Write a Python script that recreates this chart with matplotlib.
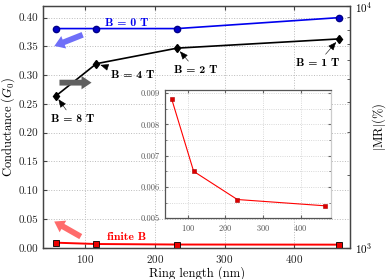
import numpy as np
import matplotlib
matplotlib.use('Agg')
import matplotlib.pyplot as plt
from matplotlib.ticker import MultipleLocator, NullFormatter

plt.rcParams['font.family'] = ['cmr10', 'DejaVu Serif']
plt.rcParams['mathtext.fontset'] = 'cm'
plt.rcParams['axes.formatter.use_mathtext'] = True

# data
ring = [58, 116, 232, 464]
g_b0 = [0.381, 0.381, 0.381, 0.400]
g_field = [0.264, 0.320, 0.347, 0.363]
field_labels = ['B = 8 T', 'B = 4 T', 'B = 2 T', 'B = 1 T']
g_finite = [0.0088, 0.0065, 0.0056, 0.0054]

# where the field labels sit (text centre)
label_pos = [(82, 0.224), (168, 0.300), (259, 0.309), (434, 0.321)]

spine_col = '#444444'

fig = plt.figure(figsize=(3.88, 2.79), dpi=100)
ax = fig.add_axes([0.112, 0.112, 0.790, 0.866])

ax.plot(ring, g_b0, color='#0000ee', lw=1.2, marker='o', ms=4.5,
        mfc='#0000cc', mec='#000088', zorder=5)
ax.plot(ring, g_field, color='black', lw=1.2, marker='d', ms=4.5, zorder=5)
ax.plot(ring, g_finite, color='red', lw=1.4, marker='s', ms=5,
        mfc='#ee0000', mec='black', mew=0.6, zorder=5)

ax.set_xlim(40, 480)
ax.set_ylim(0, 0.42)
ax.xaxis.set_major_locator(MultipleLocator(100))
ax.yaxis.set_major_locator(MultipleLocator(0.05))
ax.yaxis.set_major_formatter(matplotlib.ticker.FormatStrFormatter('%.2f'))
ax.tick_params(direction='in', labelsize=8, length=3, top=True,
               color=spine_col, labelcolor='#222222')
ax.grid(True, ls=':', color='#bbbbbb', lw=0.7)
for s in ax.spines.values():
    s.set_color(spine_col)
    s.set_linewidth(0.9)
ax.set_xlabel('Ring length (nm)', fontsize=9, labelpad=1)
ax.set_ylabel('Conductance ($G_0$)', fontsize=9, labelpad=1)

# right log axis
ax2 = ax.twinx()
ax2.set_yscale('log')
ax2.set_ylim(1e3, 1e4)
ax2.tick_params(which='both', direction='in', labelsize=8, color=spine_col)
ax2.tick_params(which='major', length=3)
ax2.tick_params(which='minor', length=2)
ax2.yaxis.set_minor_formatter(NullFormatter())
for s in ax2.spines.values():
    s.set_color(spine_col)
    s.set_linewidth(0.9)
ax2.set_ylabel(r'$|\mathrm{MR}|(\%)$', fontsize=9)
ax2.yaxis.set_label_coords(1.065, 0.5)

# labels
ax.text(160, 0.391, 'B = 0 T', color='#0000ee', fontsize=8.5,
        family='cmb10', ha='center', va='center', zorder=6)
ax.text(160, 0.019, 'finite B', color='red', fontsize=8.5,
        family='cmb10', ha='center', va='center', zorder=6)
for (tx, ty), x, y, lab in zip(label_pos, ring, g_field, field_labels):
    ax.annotate(lab, xy=(x, y), xytext=(tx, ty), fontsize=8.5,
                family='cmb10', ha='center', va='center', zorder=6,
                arrowprops=dict(arrowstyle='-|>,head_length=0.6,head_width=0.25',
                                color='black', lw=0.4, shrinkA=1, shrinkB=3))

# fat arrows
fat = 'simple,head_width=0.8,head_length=0.6,tail_width=0.35'
ax.annotate('', xy=(52, 0.349), xytext=(100, 0.372),
            arrowprops=dict(arrowstyle=fat, mutation_scale=12,
                            color='#6f6ff8', lw=0), zorder=6)
ax.annotate('', xy=(113, 0.287), xytext=(59, 0.287),
            arrowprops=dict(arrowstyle=fat, mutation_scale=12,
                            color='#606060', lw=0), zorder=6)
ax.annotate('', xy=(52, 0.048), xytext=(97, 0.017),
            arrowprops=dict(arrowstyle=fat, mutation_scale=12,
                            color='#ff6b6b', lw=0), zorder=6)

# inset
ins = fig.add_axes([0.4253, 0.2176, 0.427, 0.46])
ins.plot(ring, g_finite, color='red', lw=0.8, marker='s', ms=2.6,
         mfc='#dd0000', mec='#aa0000', mew=0.4)
ins.set_xlim(40, 480)
ins.set_ylim(0.005, 0.0091)
ins.xaxis.set_major_locator(MultipleLocator(100))
ins.yaxis.set_major_locator(MultipleLocator(0.001))
ins.yaxis.set_minor_locator(MultipleLocator(0.0005))
ins.yaxis.set_major_formatter(matplotlib.ticker.FormatStrFormatter('%.3f'))
ins.tick_params(which='both', direction='in', labelsize=6, length=2,
                color='#666666', labelcolor='#555555', top=True, right=True)
ins.tick_params(which='minor', length=1.5)
ins.grid(True, which='both', axis='y', ls=':', color='#cccccc', lw=0.6)
ins.grid(True, which='major', axis='x', ls=':', color='#cccccc', lw=0.6)
for k, s in ins.spines.items():
    s.set_linewidth(0.9)
    s.set_color('#555555' if k in ('left', 'bottom', 'top') else '#cccccc')

fig.savefig('out.png', dpi=100)
